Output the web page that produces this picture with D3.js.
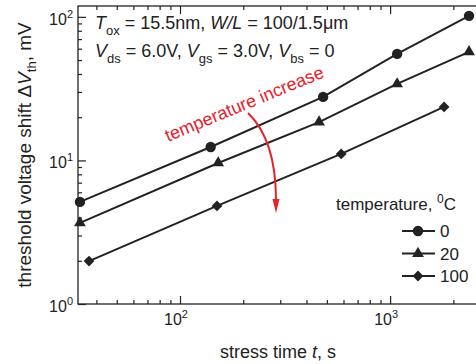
<html>
<head>
<script src="https://d3js.org/d3.v7.min.js"></script>
<style>
  body { margin: 0; background: #fff; }
  text { font-family: Arial, "Liberation Sans", sans-serif; fill: #222; }
</style>
</head>
<body>
<svg id="chart" width="476" height="364"></svg>
<script>
// data
var tempLabels = ["0", "20", "100"];
var time0   = [33.4, 140, 480, 1080, 2375];
var shift0  = [5.14, 12.4, 27.7, 55.2, 101.6];
var time20  = [33.4, 152, 459, 1080, 2375];
var shift20 = [3.67, 9.6, 18.5, 34.1, 57];
var time100  = [36.9, 150, 585, 1807];
var shift100 = [1.99, 4.82, 11.1, 23.6];

var xMajor = [100, 1000];
var xMinor = [40, 50, 60, 70, 80, 90, 200, 300, 400, 500, 600, 700, 800, 900, 2000];
var yMajor = [1, 10, 100];
var yMinor = [2, 3, 4, 5, 6, 7, 8, 9, 20, 30, 40, 50, 60, 70, 80, 90];
var xTickExp = ["2", "3"];
var yTickExp = ["0", "1", "2"];

var series = [
    {label: tempLabels[0], t: time0, v: shift0, shape: "circle"},
    {label: tempLabels[1], t: time20, v: shift20, shape: "triangle"},
    {label: tempLabels[2], t: time100, v: shift100, shape: "diamond"}
];

var svg = d3.select("#chart");
var pLeft = 78, pRight = 478, pTop = 6, pBottom = 304;
var ink = "#222";

var x = d3.scaleLog().domain([32.7, 2620]).range([pLeft, pRight]);
var y = d3.scaleLog().domain([1, 119]).range([pBottom, pTop]);

// frame
svg.append("rect")
    .attr("x", pLeft).attr("y", pTop)
    .attr("width", pRight - pLeft).attr("height", pBottom - pTop)
    .attr("fill", "none").attr("stroke", ink).attr("stroke-width", 1.3);

function tickAxis(axis, vals, len, tr) {
    var g = svg.append("g").attr("transform", tr)
        .call(axis.tickValues(vals).tickSize(-len).tickFormat(""));
    g.select(".domain").remove();
    g.selectAll(".tick line").attr("stroke", ink).attr("stroke-width", 1.2);
    return g;
}
tickAxis(d3.axisBottom(x), xMajor, 8, "translate(0," + pBottom + ")");
tickAxis(d3.axisBottom(x), xMinor, 4, "translate(0," + pBottom + ")");
tickAxis(d3.axisTop(x), xMajor, 8, "translate(0," + pTop + ")");
tickAxis(d3.axisTop(x), xMinor, 4, "translate(0," + pTop + ")");
tickAxis(d3.axisLeft(y), yMajor, 8, "translate(" + pLeft + ",0)");
tickAxis(d3.axisLeft(y), yMinor, 4, "translate(" + pLeft + ",0)");

// tick labels with superscripts
xMajor.forEach(function (d, i) {
    var t = svg.append("text").attr("x", x(d) - 4).attr("y", pBottom + 21)
        .attr("text-anchor", "middle").attr("font-size", 16);
    t.append("tspan").text("10");
    t.append("tspan").attr("font-size", 11).attr("dy", -7).text(xTickExp[i]);
});
yMajor.forEach(function (d, i) {
    var t = svg.append("text").attr("x", pLeft - 5).attr("y", y(d) + 8)
        .attr("text-anchor", "end").attr("font-size", 16);
    t.append("tspan").text("10");
    t.append("tspan").attr("font-size", 11).attr("dy", -7).text(yTickExp[i]);
});

// axis titles
var xl = svg.append("text").attr("x", (pLeft + pRight) / 2).attr("y", 358)
    .attr("text-anchor", "middle").attr("font-size", 18);
xl.append("tspan").text("stress time ");
xl.append("tspan").attr("font-style", "italic").text("t");
xl.append("tspan").text(", s");

var yl = svg.append("text").attr("transform", "translate(31,155) rotate(-90)")
    .attr("text-anchor", "middle").attr("font-size", 19);
yl.append("tspan").text("threshold voltage shift \u0394");
yl.append("tspan").attr("font-style", "italic").text("V");
yl.append("tspan").attr("font-size", 13).attr("dy", 5).text("th");
yl.append("tspan").attr("dy", -5).text(", mV");

// condition text
var c1 = svg.append("text").attr("x", 95).attr("y", 29).attr("font-size", 18);
c1.append("tspan").attr("font-style", "italic").text("T");
c1.append("tspan").attr("font-size", 13).attr("dy", 6).text("ox");
c1.append("tspan").attr("dy", -6).text(" = 15.5nm, ");
c1.append("tspan").attr("font-style", "italic").text("W/L");
c1.append("tspan").text(" = 100/1.5\u03bcm");

var c2 = svg.append("text").attr("x", 95).attr("y", 57).attr("font-size", 18);
[["V", "ds", " = 6.0V, "], ["V", "gs", " = 3.0V, "], ["V", "bs", " = 0"]].forEach(function (p) {
    c2.append("tspan").attr("font-style", "italic").text(p[0]);
    c2.append("tspan").attr("font-size", 13).attr("dy", 6).text(p[1]);
    c2.append("tspan").attr("dy", -6).text(p[2]);
});

// markers
function marker(shape) {
    if (shape === "circle") return d3.symbol().type(d3.symbolCircle).size(85)();
    if (shape === "triangle") return d3.symbol().type(d3.symbolTriangle).size(60)();
    return d3.symbol().type(d3.symbolSquare).size(58)();
}
function markerRot(shape) { return shape === "diamond" ? " rotate(45)" : ""; }

var line = d3.line().x(function (d) { return x(d[0]); }).y(function (d) { return y(d[1]); });

series.forEach(function (s) {
    var pts = s.t.map(function (t, i) { return [t, s.v[i]]; });
    svg.append("path").datum(pts)
        .attr("fill", "none").attr("stroke", ink).attr("stroke-width", 2)
        .attr("d", line);
    svg.selectAll(null).data(pts).enter().append("path")
        .attr("d", marker(s.shape))
        .attr("transform", function (d) { return "translate(" + x(d[0]) + "," + y(d[1]) + ")" + markerRot(s.shape); })
        .attr("fill", ink);
});

// legend
svg.append("text").attr("x", 336).attr("y", 210).attr("font-size", 17)
    .call(function (t) {
        t.append("tspan").text("temperature, ");
        t.append("tspan").attr("font-size", 12).attr("dy", -7).text("0");
        t.append("tspan").attr("dy", 7).text("C");
    });
series.forEach(function (s, i) {
    var ly = 231 + i * 22.5;
    svg.append("line").attr("x1", 402).attr("x2", 435).attr("y1", ly).attr("y2", ly)
        .attr("stroke", ink).attr("stroke-width", 2);
    svg.append("path").attr("d", marker(s.shape))
        .attr("transform", "translate(418," + ly + ")" + markerRot(s.shape))
        .attr("fill", ink);
    svg.append("text").attr("x", 440).attr("y", ly + 6).attr("font-size", 17).text(s.label);
});

// annotation
var red = "#e8202a";
svg.append("text").attr("transform", "translate(168,142) rotate(-22.5)")
    .attr("font-size", 18).style("fill", red).text("temperature increase");
svg.append("path").attr("d", "M248,113 Q276,140 276,200")
    .attr("fill", "none").attr("stroke", red).attr("stroke-width", 2);
svg.append("path").attr("d", "M272.5,199 L276,213 L279.5,199 Z").attr("fill", red);
</script>
</body>
</html>
